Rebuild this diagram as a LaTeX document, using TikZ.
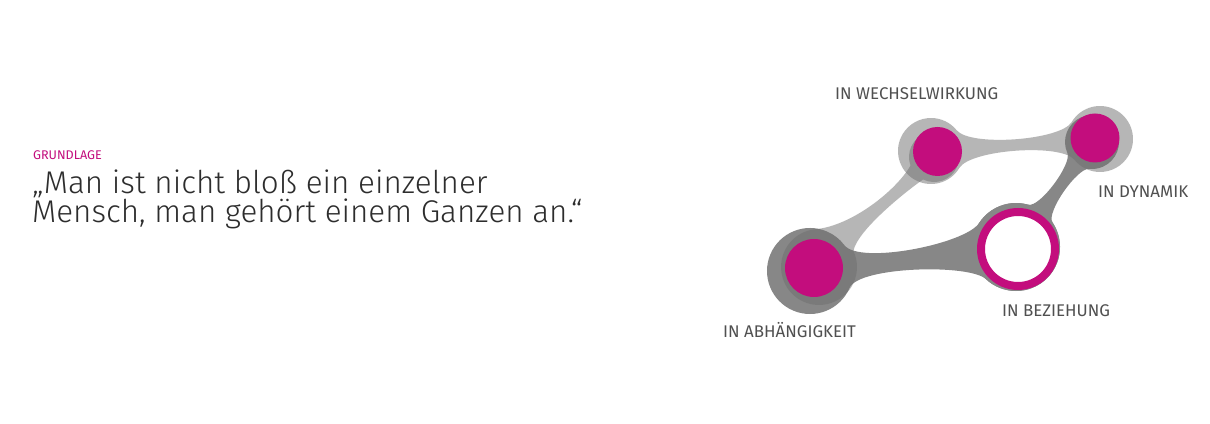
\documentclass[tikz,border=0pt]{standalone}
\usepackage{fontspec}
\setmainfont{Fira Sans}[UprightFont=* Light]
\newfontfamily\firaregular{Fira Sans}
\usetikzlibrary{positioning,calc}

\definecolor{dotmagenta}{RGB}{195,13,125}
\definecolor{bandlight}{RGB}{111,111,111}
\definecolor{banddark}{RGB}{135,135,135}
\definecolor{quotegray}{RGB}{45,45,45}
\definecolor{labelgray}{RGB}{80,80,80}

\begin{document}
\begin{tikzpicture}[
    x=1pt, y=1pt,
    halo/.style={circle, inner sep=0pt, outer sep=0pt, minimum size=#1},
    dot/.style={circle, fill=dotmagenta, inner sep=0pt, minimum size=#1},
    lightband/.style={fill=bandlight, fill opacity=0.5},
    darkband/.style={fill=banddark},
    tag/.style={text=labelgray, font=\firaregular\fontsize{16.9}{18}\selectfont, inner sep=0pt, anchor=base west},
    quote/.style={text=quotegray, font=\fontsize{31.4}{34}\selectfont, inner sep=0pt, anchor=base west}
]
    \fill[white] (0,0) rectangle (1210,423);
    \useasboundingbox (0,0) rectangle (1210,423);

    % outlines of the gray shapes
    \node[halo=66pt] (wechhalo) at (931,272) {};
    \node[halo=66pt] (dynhalo) at (1100,284) {};
    \node[halo=86pt] (abhhalo) at (810,152) {};
    \node[halo=88pt] (bezhalo) at (1016,176) {};
    \node[halo=54pt] (dynend) at (1092,281) {};
    \node[halo=76pt] (abhend) at (819,156) {};
    \node[halo=50pt] (wechend) at (934,266) {};

    % dark bands
    \fill[darkband] (abhhalo.37) to[out=-53, in=237, distance=25] (bezhalo.147)
        arc[start angle=147, end angle=-133, radius=44]
        to[out=137, in=67, distance=23] (abhhalo.-23)
        arc[start angle=-23, end angle=-323, radius=43] -- cycle;
    \fill[darkband] (bezhalo.74) to[out=-16, in=294, distance=12] (dynend.204)
        arc[start angle=204, end angle=-96, radius=27]
        to[out=174, in=124, distance=12] (bezhalo.34)
        arc[start angle=34, end angle=-286, radius=44] -- cycle;

    % light bands
    \fill[lightband] (wechhalo.39) to[out=-51, in=239, distance=21.5] (dynhalo.149)
        arc[start angle=149, end angle=-141, radius=33]
        to[out=129, in=59, distance=21.5] (wechhalo.-31)
        arc[start angle=-31, end angle=-321, radius=33] -- cycle;
    \fill[lightband] (abhend.95) to[out=5, in=240, out distance=35, in distance=30] (wechend.200)
        arc[start angle=200, end angle=-116, radius=25]
        to[out=215, in=80, out distance=25, in distance=20] (abhend.25)
        arc[start angle=25, end angle=-265, radius=38] -- cycle;

    % dots
    \node[dot=49pt] (wech) at (937.5,271.5) {};
    \node[dot=49pt] (dyn) at (1095,285) {};
    \node[dot=58pt] (abh) at (814,155) {};
    \node[circle, draw=dotmagenta, line width=8pt, fill=white, inner sep=0pt, minimum size=74pt] (bez) at (1018,174) {};

    % labels
    \node[tag] (wechlabel) at (835,323.7) {IN WECHSELWIRKUNG};
    \node[tag] (dynlabel) at (1098,225.7) {IN DYNAMIK};
    \node[tag] (bezlabel) at (1002,106.3) {IN BEZIEHUNG};
    \node[tag] (abhlabel) at (723,85.3) {IN ABHÄNGIGKEIT};

    % quote
    \node[anchor=base west, inner sep=0pt, text=dotmagenta, font=\firaregular\fontsize{12.6}{14}\selectfont] (grundlage) at (33,263) {GRUNDLAGE};
    \node[quote] (quoteone) at (32,229) {„Man ist nicht bloß ein einzelner};
    \node[quote] (quotetwo) at ([yshift=-28.3pt]quoteone.base west) {Mensch, man gehört einem Ganzen an.“};
\end{tikzpicture}
\end{document}
